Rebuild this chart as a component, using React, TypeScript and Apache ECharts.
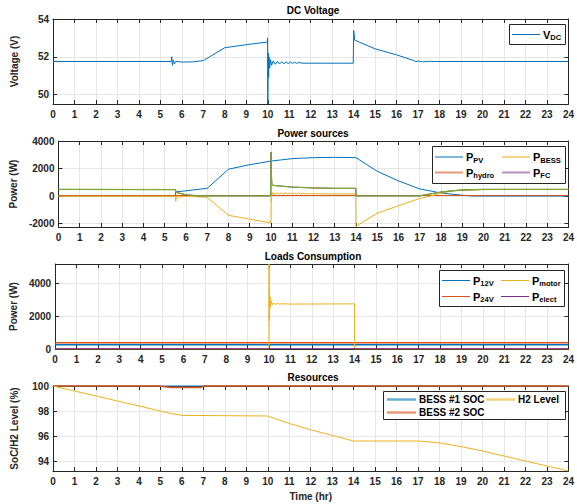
import React, { useEffect, useRef } from "react";
import * as echarts from "echarts";

type P = [number, number][];

// ---------- DC Voltage ----------
const vdc: P = [
  [0, 51.75], [5.5, 51.75], [5.53, 52.0], [5.56, 51.55], [5.6, 51.82], [5.65, 51.62], [5.72, 51.76],
  [6, 51.72], [6.5, 51.73], [6.8, 51.77], [7, 51.8], [8, 52.48], [9, 52.64], [9.98, 52.78],
  [9.99, 53.0], [10, 49.5], [10.02, 52.2], [10.04, 50.9], [10.06, 52.0], [10.09, 51.4], [10.13, 51.85],
  [10.18, 51.55], [10.25, 51.78], [10.35, 51.6], [10.45, 51.76], [10.55, 51.62], [10.65, 51.74],
  [10.75, 51.63], [10.85, 51.73], [10.95, 51.64], [11.05, 51.72], [11.15, 51.65], [11.25, 51.71],
  [11.35, 51.65], [11.45, 51.7], [11.6, 51.66], [12, 51.66], [13.98, 51.66], [14, 53.4], [14.05, 52.88],
  [15, 52.42], [16, 52.1], [16.8, 51.8], [16.9, 51.74], [17, 51.78], [17.2, 51.73], [17.5, 51.76],
  [17.8, 51.75], [24, 51.75],
];

// ---------- Power sources ----------
const pvPower: P = [
  [0, 0], [5.5, 0], [5.52, 300], [6, 380], [7, 560], [8, 1950], [9, 2280], [10, 2540], [11, 2720],
  [12, 2790], [13, 2810], [14, 2790], [15, 1800], [16, 1100], [17, 520], [18, 220], [19, 60], [19.5, 0], [24, 0],
];
const hydroPower: P = [[0, 40], [24, 40]];
const bessPower: P = [
  [0, -20], [5.5, -20], [5.52, -380], [5.56, -10], [5.65, -90], [5.8, -30], [6.5, -50], [7, -100],
  [8, -1400], [9, -1680], [9.98, -1950], [10, -1700], [10.01, -100], [10.02, -400], [10.03, 150],
  [10.06, 250], [10.1, 100], [10.15, 240], [10.2, 110], [10.3, 240], [10.4, 120], [10.5, 240],
  [10.6, 120], [10.7, 235], [10.8, 125], [10.9, 230], [11, 130], [11.1, 225], [11.2, 135], [11.3, 220],
  [11.4, 140], [11.5, 210], [11.6, 145], [11.7, 200], [11.8, 150], [11.9, 190], [12, 160], [13.99, 150],
  [14, -2250], [14.1, -2100], [15, -1250], [16, -700], [17, -180], [17.5, 0], [18, 200], [18.5, 360],
  [19, 430], [20, 470], [24, 470],
];
const greenPower: P = [
  [0, 480], [5.5, 470], [5.55, 260], [6, 90], [6.5, 20], [7, 15], [9.99, 15], [10, 3200], [10.02, 1500],
  [10.04, 900], [10.1, 780], [10.5, 720], [11, 650], [12, 590], [13, 560], [13.99, 560], [14, 15],
  [17, 15], [17.5, 150], [18, 290], [18.5, 380], [19, 440], [20, 480], [24, 480],
];
const fcPower: P = greenPower;

// ---------- Loads ----------
const p12v: P = [[0, 260], [24, 260]];
const p24v: P = [[0, 380], [24, 380]];
const pMotor: P = [
  [0, 0], [9.995, 0], [10, 5200], [10.01, 1700], [10.02, 3500], [10.035, 2400], [10.05, 3200],
  [10.07, 2600], [10.1, 2950], [10.15, 2700], [10.2, 2820], [10.3, 2730], [10.4, 2790], [10.5, 2740],
  [10.6, 2770], [11, 2750], [13.995, 2760], [14, 0], [24, 0],
];
const pElect: P = [[0, 20], [24, 20]];

// ---------- Resources ----------
const soc1: P = [[0, 100], [24, 100]];
const soc2: P = [[0, 100], [4.9, 100], [5.5, 99.88], [6.9, 99.88], [7, 100], [24, 100]];
const h2Level: P = [
  [0, 100], [1, 99.6], [2, 99.2], [3, 98.8], [4, 98.4], [5, 98.0], [5.5, 97.8], [6, 97.65], [10, 97.6],
  [11, 97.0], [12, 96.5], [13, 96.05], [14, 95.6], [17, 95.6], [18, 95.45], [19, 95.15], [20, 94.8],
  [21, 94.4], [22, 94.0], [23, 93.6], [24, 93.2],
];

const titles = ["DC Voltage", "Power sources", "Loads Consumption", "Resources"];
const yNames = ["Voltage (V)", "Power (W)", "Power (W)", "SoC/H2 Level (%)"];
const yMin = [49.5, -2250, 0, 93.2];
const yMax = [54, 4000, 5200, 100];
const yStep = [2, 2000, 2000, 2];

const C = { blue: "#0072BD", orange: "#D95319", yellow: "#EDB120", purple: "#7E2F8E", green: "#77AC30" };
const FONT = "'Liberation Sans', Arial, Helvetica, sans-serif";
const AX = "#262626";
const GRIDC = "#e6e6e6";

const gridPos = [
  { top: 19, height: 85 },
  { top: 141, height: 86 },
  { top: 264, height: 85 },
  { top: 386, height: 85 },
];
const titleY = [10.5, 133.5, 256.5, 377.5];

// legend layout: [label rich text, color, line x0, line x1, y, line width, opacity]
const legendItems: [string, string, number, number, number, number, number][] = [
  ["{m|V}{s|DC}", C.blue, 512, 540, 34.5, 1, 1],
  ["{m|P}{s|PV}", C.blue, 435, 463, 157, 1, 1],
  ["{m|P}{s|hydro}", C.orange, 435, 463, 172.5, 2, 0.6],
  ["{m|P}{s|BESS}", C.yellow, 502, 530, 157, 1.5, 0.7],
  ["{m|P}{s|FC}", C.purple, 502, 530, 172.5, 2, 0.55],
  ["{m|P}{s|12V}", C.blue, 442, 470, 280.5, 1, 1],
  ["{m|P}{s|24V}", C.orange, 442, 470, 296.5, 1, 1],
  ["{m|P}{s|motor}", C.yellow, 501, 529, 280.5, 1, 1],
  ["{m|P}{s|elect}", C.purple, 501, 529, 296.5, 1, 1],
  ["{t|BESS #1 SOC}", C.blue, 387, 416, 399.5, 2.5, 0.6],
  ["{t|BESS #2 SOC}", C.orange, 387, 416, 412.5, 2.5, 0.6],
  ["{t|H2 Level}", C.yellow, 486, 515, 399.5, 2.5, 0.6],
];
const boxes = [
  [509.5, 24.5, 56, 20],
  [432.5, 146.5, 133, 37],
  [439.5, 270.5, 125, 36],
  [383.5, 391.5, 182, 28],
];

export default function App() {
  const ref = useRef<HTMLDivElement>(null);
  useEffect(() => {
    document.body.style.margin = "0";
    if (!ref.current) return;
    const chart = echarts.init(ref.current, undefined, { renderer: "svg" });

    const labelStyle = { color: AX, fontSize: 10, fontWeight: "bold" as const, fontFamily: FONT };
    const xAxes: any[] = [];
    const yAxes: any[] = [];
    gridPos.forEach((_, i) => {
      const base = {
        type: "value",
        gridIndex: i,
        axisLine: { show: true, onZero: false, lineStyle: { color: AX, width: 1 } },
        axisTick: { show: true, inside: true, length: 4, lineStyle: { color: AX, width: 1 } },
      };
      xAxes.push({
        ...base,
        position: "bottom",
        min: 0,
        max: 24,
        interval: 1,
        axisLabel: { ...labelStyle, margin: 5 },
        splitLine: { show: true, lineStyle: { color: GRIDC, width: 1 } },
        name: i === 3 ? "Time (hr)" : "",
        nameLocation: "middle",
        nameGap: 20,
        nameTextStyle: { ...labelStyle },
      });
      xAxes.push({
        ...base,
        position: "top",
        min: 0,
        max: 24,
        interval: 1,
        axisLabel: { show: false },
        splitLine: { show: false },
      });
      const step = yStep[i];
      yAxes.push({
        ...base,
        position: "left",
        min: yMin[i],
        max: yMax[i],
        splitNumber: 3,
        axisLabel: {
          ...labelStyle,
          margin: 4,
          formatter: (v: number) => (Math.abs(v / step - Math.round(v / step)) < 1e-6 ? String(Math.round(v)) : ""),
        },
        splitLine: { show: true, lineStyle: { color: GRIDC, width: 1 } },
        name: yNames[i],
        nameLocation: "middle",
        nameRotate: 90,
        nameGap: 34,
        nameTextStyle: { ...labelStyle },
      });
      yAxes.push({
        ...base,
        position: "right",
        min: yMin[i],
        max: yMax[i],
        splitNumber: 3,
        axisLabel: { show: false },
        splitLine: { show: false },
      });
    });

    const line = (name: string, data: P, color: string, g: number, width = 1, clip = true) => ({
      type: "line",
      name,
      data,
      xAxisIndex: 2 * g,
      yAxisIndex: 2 * g,
      symbol: "none",
      showSymbol: false,
      clip,
      lineStyle: { color, width },
      itemStyle: { color },
      emphasis: { disabled: true },
      animation: false,
    });

    const series = [
      line("V_DC", vdc, C.blue, 0),
      line("P_PV", pvPower, C.blue, 1),
      line("P_hydro", hydroPower, C.orange, 1),
      line("P_BESS", bessPower, C.yellow, 1),
      line("P_FC", fcPower, C.purple, 1),
      line("P_other", greenPower, C.green, 1, 1.3),
      line("P_12V", p12v, C.blue, 2, 1.5),
      line("P_24V", p24v, C.orange, 2, 1.5),
      line("P_motor", pMotor, C.yellow, 2),
      line("P_elect", pElect, C.purple, 2),
      line("BESS #1 SOC", soc1, C.blue, 3, 1, false),
      line("BESS #2 SOC", soc2, C.orange, 3, 1.5, false),
      line("H2 Level", h2Level, C.yellow, 3),
    ];

    const rich = {
      m: { fontSize: 11, fontWeight: "bold", fontFamily: FONT, fill: "#000", lineHeight: 14 },
      s: { fontSize: 7.5, fontWeight: "bold", fontFamily: FONT, fill: "#000", lineHeight: 7, verticalAlign: "bottom" },
      t: { fontSize: 10, fontWeight: "bold", fontFamily: FONT, fill: "#000", lineHeight: 14 },
    };

    const graphic: any[] = boxes.map(([x, y, w, h]) => ({
      type: "rect",
      z: 10,
      shape: { x, y, width: w, height: h },
      style: { fill: "#fff", stroke: AX, lineWidth: 1 },
    }));
    legendItems.forEach(([txt, color, x0, x1, y, w, op]) => {
      graphic.push({
        type: "line",
        z: 11,
        shape: { x1: x0, y1: y, x2: x1, y2: y },
        style: { stroke: color, lineWidth: w, opacity: op },
      });
      graphic.push({
        type: "text",
        z: 11,
        x: x1 + 3,
        y,
        style: {
          text: txt,
          rich,
          fill: "#000",
          fontSize: 10,
          fontWeight: "bold",
          fontFamily: FONT,
          textAlign: "left",
          align: "left",
          textVerticalAlign: "middle",
          verticalAlign: "middle",
        },
      });
    });
    titles.forEach((t, i) => {
      graphic.push({
        type: "text",
        z: 10,
        x: 313,
        y: titleY[i],
        style: {
          text: t,
          fill: "#000",
          fontSize: 10,
          fontWeight: "bold",
          fontFamily: FONT,
          textAlign: "center",
          align: "center",
          textVerticalAlign: "middle",
          verticalAlign: "middle",
        },
      });
    });

    chart.setOption({
      animation: false,
      backgroundColor: "#fff",
      grid: gridPos.map((g) => ({ left: 53, width: 520, top: g.top, height: g.height, containLabel: false })),
      xAxis: xAxes,
      yAxis: yAxes,
      series,
      graphic,
    });
    return () => chart.dispose();
  }, []);
  return <div ref={ref} style={{ width: 577, height: 504 }} />;
}
